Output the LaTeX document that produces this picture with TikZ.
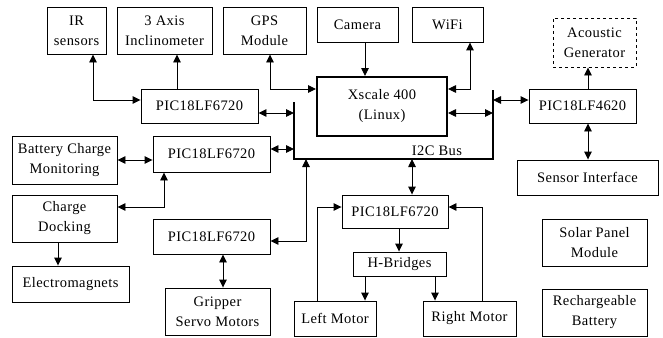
\documentclass[tikz,border=0pt]{standalone}
\usepackage{fontspec}
\setmainfont[LetterSpace=3]{Liberation Serif}
\usetikzlibrary{arrows.meta}

\tikzset{
  blk/.style={draw, line width=0.9pt, inner sep=0pt, align=center},
  conn/.style={line width=0.9pt},
  >={Triangle[length=8pt,width=7.5pt]}
}

\begin{document}
\begin{tikzpicture}[x=1pt,y=-1pt,font=\fontsize{14.5}{20}\selectfont]
\useasboundingbox (0,0) rectangle (663,337);

% top row
\node[blk, minimum width=59pt, minimum height=47pt] (ir) at (76.5,30.5) {IR\\sensors};
\node[blk, minimum width=95pt, minimum height=47pt] (incl) at (164.5,30.5) {3 Axis\\Inclinometer};
\node[blk, minimum width=83pt, minimum height=47pt] (gps) at (264.5,30.5) {GPS\\Module};
\node[blk, minimum width=81pt, minimum height=35pt] (cam) at (357.5,24.5) {Camera};
\node[blk, minimum width=71pt, minimum height=35pt] (wifi) at (447.5,24.5) {WiFi};
\node[blk, dashed, minimum width=83pt, minimum height=49pt] (acou) at (594.5,42.5) {Acoustic\\Generator};

% main processor and bus
\node[blk, line width=2pt, minimum width=130pt, minimum height=59pt] (xs) at (382,106.5) {Xscale 400\\(Linux)};
\coordinate (bustl) at (294,102);
\coordinate (busbl) at (294,159);
\coordinate (busbr) at (493,159);
\coordinate (bustr) at (493,90);
\draw[line width=2.2pt] (bustl) -- (busbl) -- (busbr) -- (bustr);
\node (buslabel) at (437,151) {I2C Bus};

% left side
\node[blk, minimum width=117pt, minimum height=34pt] (pica) at (199.5,106) {PIC18LF6720};
\node[blk, minimum width=117pt, minimum height=36pt] (picb) at (211.5,154) {PIC18LF6720};
\node[blk, minimum width=105pt, minimum height=48pt] (batt) at (64.5,160) {Battery Charge\\Monitoring};
\node[blk, minimum width=105pt, minimum height=47pt] (dock) at (64.5,218.5) {Charge\\Docking};
\node[blk, minimum width=117pt, minimum height=36pt] (emag) at (70.5,284) {Electromagnets};
\node[blk, minimum width=117pt, minimum height=35pt] (picc) at (211.5,236.5) {PIC18LF6720};
\node[blk, minimum width=105pt, minimum height=47pt] (grip) at (217.5,311.5) {Gripper\\Servo Motors};

% drive
\node[blk, minimum width=106pt, minimum height=33pt] (picd) at (395,211.5) {PIC18LF6720};
\node[blk, minimum width=93pt, minimum height=24pt] (hbr) at (399.5,264) {H-Bridges};
\node[blk, minimum width=82pt, minimum height=35pt] (lmot) at (335,318.5) {Left Motor};
\node[blk, minimum width=93pt, minimum height=35pt] (rmot) at (469.5,318.5) {Right Motor};

% right side
\node[blk, minimum width=107pt, minimum height=34pt] (pice) at (582.5,106) {PIC18LF4620};
\node[blk, minimum width=141pt, minimum height=35pt] (sens) at (587.5,177.5) {Sensor Interface};
\node[blk, minimum width=105pt, minimum height=47pt] (solar) at (594.5,242.5) {Solar Panel\\Module};
\node[blk, minimum width=105pt, minimum height=47pt] (rech) at (594.5,312.5) {Rechargeable\\Battery};

% connections
\draw[conn,<->] (ir.south -| 93,0) |- (pica.west |- 0,100);
\draw[conn,->] (pica.north -| 177,0) -- (incl.south -| 177,0);
\draw[conn,<->] (gps.south -| 270,0) |- (xs.west |- 0,89);
\draw[conn,<->] (pica.east |- 0,113) -- (bustl |- 0,113);
\draw[conn,<->] (picb.east |- 0,149) -- (bustl |- 0,149);
\draw[conn,<->] (batt.east |- 0,160) -- (picb.west |- 0,160);
\draw[conn,<->] (picb.south -| 164,0) |- (dock.east |- 0,207);
\draw[conn,->] (dock.south -| 58,0) -- (emag.north -| 58,0);
\draw[conn,<->] (busbl -| 306,0) |- (picc.east |- 0,241);
\draw[conn,<->] (picc.south -| 223,0) -- (grip.north -| 223,0);
\draw[conn,->] (cam.south -| 365,0) -- (xs.north -| 365,0);
\draw[conn,<->] (xs.east |- 0,89) -| (wifi.south -| 470,0);
\draw[conn,<->] (xs.east |- 0,113) -- (bustr |- 0,113);
\draw[conn,<->] (bustr |- 0,100) -- (pice.west |- 0,100);
\draw[conn,->] (pice.north -| 588,0) -- (acou.south -| 588,0);
\draw[conn,<->] (pice.south -| 588,0) -- (sens.north -| 588,0);
\draw[conn,<->] (busbl -| 412,0) -- (picd.north -| 412,0);
\draw[conn,->] (lmot.north -| 317,0) |- (picd.west |- 0,207);
\draw[conn,->] (rmot.north -| 482,0) |- (picd.east |- 0,207);
\draw[conn,->] (picd.south -| 399,0) -- (hbr.north -| 399,0);
\draw[conn,->] (hbr.south -| 365,0) -- (lmot.north -| 365,0);
\draw[conn,->] (hbr.south -| 435,0) -- (rmot.north -| 435,0);
\end{tikzpicture}
\end{document}
